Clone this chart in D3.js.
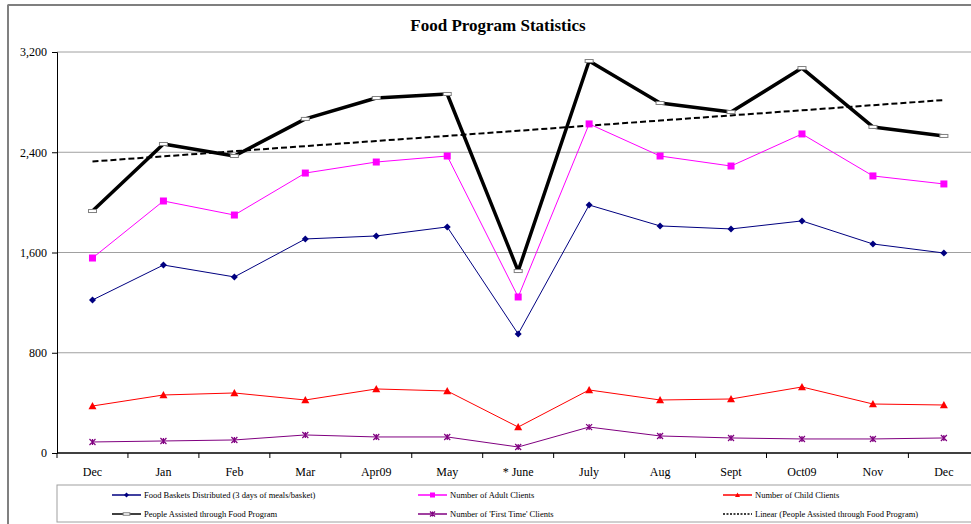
<!DOCTYPE html>
<html><head><meta charset="utf-8">
<script src="https://cdn.jsdelivr.net/npm/d3@7"></script>
<style>body{margin:0;background:#fff;}svg{display:block;font-family:"Liberation Serif","Times New Roman",serif;}</style>
</head><body>
<svg id="chart" width="971" height="524"></svg>
<script>
const categories = ["Dec","Jan","Feb","Mar","Apr09","May","* June","July","Aug","Sept","Oct09","Nov","Dec"];
const foodBaskets = [1221,1500,1405,1708,1732,1804,950,1979,1812,1788,1852,1668,1596];
const adultClients = [1556,2011,1899,2234,2322,2370,1245,2626,2370,2290,2546,2211,2147];
const childClients = [375,463,479,423,511,495,207,503,423,431,527,391,383];
const peopleAssisted = [1931,2466,2370,2666,2833,2865,1452,3128,2793,2721,3072,2602,2530];
const firstTime = [88,96,104,144,128,128,48,207,136,120,112,112,120];
const yTicks = [0,800,1600,2400,3200];

(function(){
const svg = d3.select("#chart");
const plotLeft = 57, plotTop = 52, plotBottom = 453, step = 70.95;
const x = d3.scaleBand().domain(d3.range(categories.length)).range([plotLeft, plotLeft + step*categories.length]).padding(0);
const y = d3.scaleLinear().domain([0,3200]).range([plotBottom, plotTop]);
const cx = i => x(i) + x.bandwidth()/2;

// outer border
svg.append("rect").attr("x",8).attr("y",5).attr("width",1000).attr("height",600)
  .attr("fill","#fff").attr("stroke","#000").attr("stroke-width",1);
svg.append("line").attr("x1",8).attr("x2",8).attr("y1",5).attr("y2",524).attr("stroke","#808080").attr("stroke-width",2);

// title
svg.append("text").attr("x",498).attr("y",31).attr("text-anchor","middle")
  .attr("font-weight","bold").attr("font-size",17).text("Food Program Statistics");

// gridlines
svg.append("g").selectAll("line").data(yTicks.filter(d=>d>0)).join("line")
  .attr("x1",plotLeft).attr("x2",990).attr("y1",d=>y(d)).attr("y2",d=>y(d))
  .attr("stroke","#a0a0a0").attr("stroke-width",1);

// y axis
const yAxis = d3.axisLeft(y).tickValues(yTicks).tickSize(5).tickPadding(5).tickFormat(d3.format(","));
const gy = svg.append("g").attr("transform",`translate(${plotLeft},0)`).call(yAxis);
gy.selectAll("text").attr("font-size",12).attr("font-family","Liberation Serif").attr("fill","#000");
gy.select(".domain").attr("stroke","#000");
gy.selectAll(".tick line").attr("stroke","#000");

// x axis: labels at centers, ticks at boundaries
const gx = svg.append("g").attr("transform",`translate(0,${plotBottom})`);
gx.append("line").attr("x1",plotLeft).attr("x2",990).attr("stroke","#000").attr("stroke-width",1.5);
gx.selectAll("line.tk").data(d3.range(categories.length+1)).join("line").attr("class","tk")
  .attr("x1",i=>plotLeft+i*step).attr("x2",i=>plotLeft+i*step).attr("y1",0).attr("y2",5).attr("stroke","#000");
gx.selectAll("text").data(categories).join("text")
  .attr("x",(d,i)=>cx(i)).attr("y",23).attr("text-anchor","middle").attr("font-size",12).text(d=>d);

const line = d3.line().x((d,i)=>cx(i)).y(d=>y(d));

function drawMarker(g, px, py, color, type, size){
  if(type==="diamond"){
    g.append("path").attr("d",`M${px},${py-size}L${px+size},${py}L${px},${py+size}L${px-size},${py}Z`).attr("fill",color);
  } else if(type==="square"){
    g.append("rect").attr("x",px-size).attr("y",py-size).attr("width",size*2).attr("height",size*2).attr("fill",color);
  } else if(type==="triangle"){
    g.append("path").attr("d",`M${px},${py-size}L${px+size},${py+size*0.8}L${px-size},${py+size*0.8}Z`).attr("fill",color);
  } else if(type==="dash"){
    g.append("rect").attr("x",px-size*1.33).attr("y",py-size*0.5).attr("width",size*2.67).attr("height",size)
      .attr("fill","#fff").attr("stroke","#808080").attr("stroke-width",1);
  } else if(type==="star"){
    g.append("path").attr("d",`M${px-size},${py-size}L${px+size},${py+size}M${px+size},${py-size}L${px-size},${py+size}M${px},${py-size}L${px},${py+size}`)
      .attr("stroke",color).attr("stroke-width",1.2).attr("fill","none");
  }
}
function markers(data, color, type, size){
  const g = svg.append("g");
  data.forEach((v,i)=>drawMarker(g, cx(i), y(v), color, type, size));
}

const series = [
  {name:"Food Baskets Distributed (3 days of meals/basket)", data:foodBaskets, color:"#000080", w:1, m:"diamond", s:3.5},
  {name:"Number of Adult Clients", data:adultClients, color:"#FF00FF", w:1, m:"square", s:3.5},
  {name:"Number of Child Clients", data:childClients, color:"#FF0000", w:1, m:"triangle", s:4},
  {name:"People Assisted through Food Program", data:peopleAssisted, color:"#000000", w:3.5, m:"dash", s:3},
  {name:"Number of 'First Time' Clients", data:firstTime, color:"#800080", w:1, m:"star", s:3}
];

// linear trend (least squares, as the spreadsheet trendline)
const n = peopleAssisted.length;
const mx = d3.mean(d3.range(n)), my = d3.mean(peopleAssisted);
const slope = d3.sum(d3.range(n), i=>(i-mx)*(peopleAssisted[i]-my)) / d3.sum(d3.range(n), i=>(i-mx)*(i-mx));
const intercept = my - slope*mx;
const trend = d3.range(n).map(i=>intercept + slope*i);

series.forEach(s=>{
  svg.append("path").datum(s.data).attr("d",line).attr("fill","none")
    .attr("stroke",s.color).attr("stroke-width",s.w).attr("stroke-linejoin","round");
});
svg.append("path").datum(trend).attr("d",line).attr("fill","none")
  .attr("stroke","#000").attr("stroke-width",2).attr("stroke-dasharray","6,3");
series.forEach(s=>markers(s.data, s.color, s.m, s.s));

// legend
svg.append("rect").attr("x",57).attr("y",485).attr("width",940).attr("height",37)
  .attr("fill","#fff").attr("stroke","#a0a0a0").attr("stroke-width",1);
const legendItems = [
  {s:series[0], col:0, row:0}, {s:series[1], col:1, row:0}, {s:series[2], col:2, row:0},
  {s:series[3], col:0, row:1}, {s:series[4], col:1, row:1},
  {s:{name:"Linear (People Assisted through Food Program)", color:"#000", w:1, m:null, dash:"2,1.5"}, col:2, row:1}
];
const colX = [112, 418, 723];
const rowY = [495, 514];
const lg = svg.append("g");
legendItems.forEach(it=>{
  const x0 = colX[it.col], yy = rowY[it.row];
  lg.append("line").attr("x1",x0).attr("x2",x0+29).attr("y1",yy).attr("y2",yy)
    .attr("stroke",it.s.color).attr("stroke-width",1.5)
    .attr("stroke-dasharray",it.s.dash||null);
  if(it.s.m) drawMarker(lg, x0+14.5, yy, it.s.color, it.s.m, 2.5);
  lg.append("text").attr("x",x0+32).attr("y",yy+3).attr("font-size",8.5).text(it.s.name);
});
})();
</script>
</body></html>
